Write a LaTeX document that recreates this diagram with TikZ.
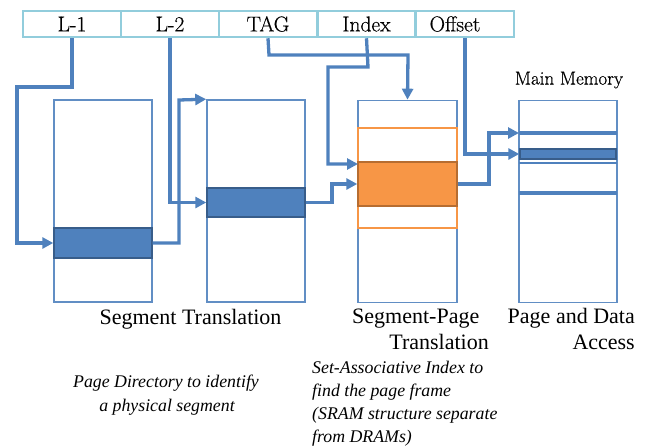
\documentclass[tikz,border=0pt]{standalone}
\usepackage{fontspec}
\newfontfamily\tnr{Liberation Serif}
\newfontfamily\cam[FakeBold=0.5]{Latin Modern Roman}
\usetikzlibrary{arrows.meta}
\definecolor{mblue}{HTML}{4F81BD}
\definecolor{dblue}{HTML}{385D8A}
\definecolor{aqua}{HTML}{92CDDC}
\definecolor{morange}{HTML}{F79646}
\definecolor{dorange}{HTML}{B66D31}
\begin{document}
\begin{tikzpicture}[x=1pt,y=-1pt,
  field/.style={draw=aqua,line width=2.5pt,minimum width=98pt,minimum height=26pt,inner sep=0pt,font=\cam\fontsize{21.5}{21.5}\selectfont},
  ftext/.style={inner sep=0pt,font=\cam\fontsize{21.5}{21.5}\selectfont},
  mem/.style={draw=mblue!90,line width=1.6pt,minimum width=98pt,minimum height=202pt,inner sep=0pt},
  bar/.style={draw=dblue,fill=mblue,line width=1.4pt,minimum width=98pt,inner sep=0pt},
  arr/.style={draw=mblue,line width=3.3pt,-{Triangle[length=11pt,width=11pt]}},
  mline/.style={draw=mblue,line width=3.3pt},
  lbl/.style={font=\tnr\fontsize{22}{25}\selectfont,inner sep=0pt},
  note/.style={font=\tnr\itshape\fontsize{17.8}{23}\selectfont,inner sep=0pt}
]
\useasboundingbox (0,0) rectangle (651,447);

% address fields
\node[field] (l1) at (72,24) {L-1};
\node[field] (l2) at (170,24) {L-2};
\node[field] (tag) at (268,24) {TAG};
\node[field] (idx) at (366.5,24) {Index};
\node[field] (off) at (465,24) {};
\node[ftext] (offt) at (455,24) {\vphantom{L}Offset};

% memory columns
\node[mem] (b1) at (103,201) {};
\node[mem] (b2) at (256,201) {};
\node[mem,minimum width=99pt] (b3) at (407.5,201.5) {};
\node[mem] (b4) at (568,201.5) {};

% highlighted entries
\node[bar,minimum height=30pt] (bar1) at (103,243) {};
\node[bar,minimum height=29pt] (bar2) at (256,202.5) {};
\node[draw=morange,line width=1.6pt,minimum width=99pt,minimum height=100pt,inner sep=0pt] (oset) at (407.5,178) {};
\node[draw=dorange,fill=morange,line width=1.4pt,minimum width=99pt,minimum height=44pt,inner sep=0pt] (ofill) at (407.5,184) {};
\node[bar,minimum width=96pt,minimum height=10pt] (mbar) at (568,154) {};

% main memory lines
\coordinate (m1a) at (519,133);
\coordinate (m1b) at (617,133);
\coordinate (m2a) at (519,163);
\coordinate (m2b) at (617,163);
\coordinate (m3a) at (519,193);
\coordinate (m3b) at (617,193);
\draw[mline] (m1a) -- (m1b);
\draw[mline,line width=2.8pt] (m2a) -- (m2b);
\draw[mline] (m3a) -- (m3b);

% connectors
\draw[arr] (l1.south) -- (72,87) -- (17,87) -- (17,243) -- (bar1.west);
\draw[arr] (l2.south) |- (bar2.west);
\draw[arr] (bar1.east) -- (179,243) -- (179,100) -- (b2.north west);
\draw[arr] (tag.south) -- (269,55) -- (408,55) -- (b3.north);
\draw[arr] (idx.south) -- (368,67) -- (328,67) -- (328,164) -- (358,164);
\draw[arr] (bar2.east) -- (332,202.5) -- (332,184) -- (ofill.west);
\draw[arr] (off.south) |- (mbar.west);
\draw[arr] (ofill.east) -- (489,184) -- (489,133) -- (m1a);

% labels
\node[font=\cam\fontsize{19}{20}\selectfont,inner sep=0pt] (mm) at (569,80) {Main Memory};
\node[lbl,anchor=base] (st) at (190.5,324) {Segment Translation};
\node[lbl,anchor=base west] (sp1) at (352,323) {Segment-Page};
\node[lbl,anchor=base east] (sp2) at (489,349) {Translation};
\node[lbl,anchor=base east] (pd1) at (635,323) {Page and Data};
\node[lbl,anchor=base east] (pd2) at (635,349) {Access};

\node[note,anchor=base] (n1) at (166,387) {Page Directory to identify};
\node[note,anchor=base] (n2) at (167,411) {a physical segment};
\node[note,anchor=base west] (s1) at (312,373) {Set-Associative Index to};
\node[note,anchor=base west] (s2) at (312,396) {find the page frame};
\node[note,anchor=base west] (s3) at (312,419) {(SRAM structure separate};
\node[note,anchor=base west] (s4) at (312,442) {from DRAMs)};
\end{tikzpicture}
\end{document}
